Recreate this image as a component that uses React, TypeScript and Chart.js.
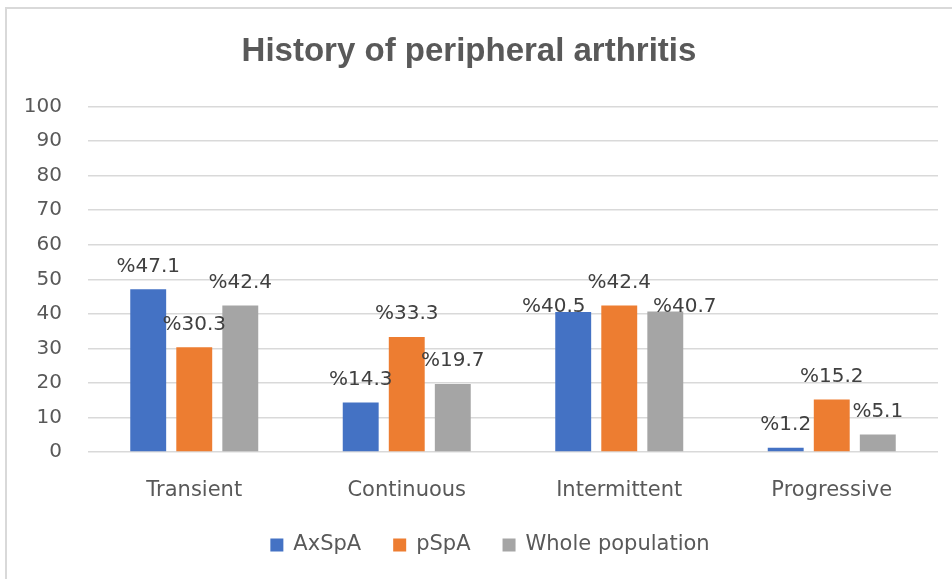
import React, { useEffect, useRef } from "react";
import { Chart, registerables } from "chart.js";

Chart.register(...registerables);

const categories = ["Transient", "Continuous", "Intermittent", "Progressive"];
const axSpA = [47.1, 14.3, 40.5, 1.2];
const pSpA = [30.3, 33.3, 42.4, 15.2];
const whole = [42.4, 19.7, 40.7, 5.1];
const seriesNames = ["AxSpA", "pSpA", "Whole population"];
const seriesColors = ["#4472C4", "#ED7D31", "#A5A5A5"];
const titleText = "History of peripheral arthritis";

const labelPlugin = {
  id: "barLabels",
  afterDatasetsDraw(chart: any) {
    const ctx = chart.ctx;
    ctx.save();
    ctx.font = "20px 'DejaVu Sans'";
    ctx.fillStyle = "#404040";
    ctx.textAlign = "center";
    ctx.textBaseline = "middle";
    const nCat = chart.data.labels.length;
    const nDs = chart.data.datasets.length;
    const h = 20;
    for (let c = 0; c < nCat; c++) {
      const boxes: any[] = [];
      for (let d = 0; d < nDs; d++) {
        const el = chart.getDatasetMeta(d).data[c];
        const v = chart.data.datasets[d].data[c];
        const text = "%" + Number(v).toFixed(1);
        const w = ctx.measureText(text).width;
        boxes.push({ text, w, x: el.x, y: el.y - 23, barY: el.y });
      }
      const order = boxes.map((_, i) => i).sort((a, b) => boxes[a].y - boxes[b].y);
      for (const i of order) {
        const b = boxes[i];
        for (const j of [i - 1, i + 1]) {
          if (j < 0 || j >= boxes.length) continue;
          const o = boxes[j];
          if (o.y > b.y) continue;
          const hOverlap = Math.abs(o.x - b.x) < (o.w + b.w) / 2;
          const vOverlap = Math.abs(o.y - b.y) < h;
          if (hOverlap && vOverlap) {
            const dir = j < i ? 1 : -1;
            b.x = o.x + dir * ((o.w + b.w) / 2 + 2);
            b.y = b.barY - 5;
          }
        }
      }
      for (const b of boxes) ctx.fillText(b.text, b.x, b.y);
    }
    ctx.restore();
  },
};

const legendPlugin = {
  id: "bottomLegend",
  afterDraw(chart: any) {
    const ctx = chart.ctx;
    ctx.save();
    ctx.font = "21px 'DejaVu Sans'";
    ctx.textBaseline = "middle";
    ctx.textAlign = "left";
    const box = 13;
    const gap = 10;
    const spacing = 32;
    const items = chart.data.datasets.map((ds: any) => ({
      label: ds.label,
      color: ds.backgroundColor,
      w: ctx.measureText(ds.label).width,
    }));
    const total =
      items.reduce((s: number, it: any) => s + box + gap + it.w, 0) + spacing * (items.length - 1);
    let x = chart.width / 2 + 14 - total / 2;
    const y = chart.height - 34;
    for (const it of items) {
      ctx.fillStyle = it.color;
      ctx.fillRect(x, y - box / 2, box, box);
      ctx.fillStyle = "#595959";
      ctx.fillText(it.label, x + box + gap, y);
      x += box + gap + it.w + spacing;
    }
    ctx.restore();
  },
};

export default function App() {
  const ref = useRef<HTMLCanvasElement | null>(null);
  useEffect(() => {
    if (!ref.current) return;
    const values = [axSpA, pSpA, whole];
    const chart = new Chart(ref.current, {
      type: "bar",
      data: {
        labels: categories,
        datasets: values.map((vals, i) => ({
          label: seriesNames[i],
          data: vals,
          backgroundColor: seriesColors[i],
          borderWidth: 0,
          categoryPercentage: 0.65,
          barPercentage: 0.78,
        })),
      },
      options: {
        responsive: false,
        animation: false,
        layout: { padding: { left: 0, right: 14, top: 0, bottom: 67 } },
        plugins: {
          title: {
            display: true,
            text: titleText,
            color: "#595959",
            font: { family: "'Liberation Sans'", size: 33, weight: "bold" },
            padding: { top: 32, bottom: 35 },
          },
          legend: { display: false },
          tooltip: { enabled: false },
        },
        scales: {
          x: {
            afterFit: (s: any) => {
              s.height = 60;
            },
            grid: { display: false },
            border: { display: false },
            ticks: {
              color: "#595959",
              padding: 18,
              font: { family: "'DejaVu Sans'", size: 21 },
            },
          },
          y: {
            min: 0,
            max: 100,
            afterFit: (s: any) => {
              s.width = 88;
            },
            grid: { color: "#d9d9d9", lineWidth: 1.5, drawTicks: false },
            border: { display: false },
            ticks: {
              stepSize: 10,
              color: "#595959",
              padding: 26,
              font: { family: "'DejaVu Sans'", size: 20 },
            },
          },
        },
      },
      plugins: [labelPlugin, legendPlugin],
    });
    return () => chart.destroy();
  }, []);
  return (
    <div style={{ position: "fixed", left: 0, top: 0, width: 952, height: 579, background: "#fff" }}>
      <div
        style={{
          position: "absolute",
          left: 5,
          top: 7,
          width: 1000,
          height: 1000,
          borderLeft: "2px solid #d9d9d9",
          borderTop: "2px solid #d9d9d9",
        }}
      />
      <canvas ref={ref} width={952} height={579} style={{ position: "absolute", left: 0, top: 0 }} />
    </div>
  );
}
